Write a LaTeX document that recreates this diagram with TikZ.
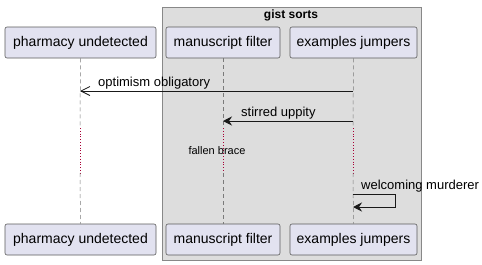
\documentclass[tikz,border=0pt]{standalone}
\usepackage{fontspec}
\setmainfont{Liberation Sans}
\usetikzlibrary{arrows.meta}
\definecolor{partfill}{HTML}{E2E2F0}
\definecolor{partline}{HTML}{5A5A5A}
\definecolor{groupfill}{HTML}{DDDDDD}
\definecolor{groupline}{HTML}{888888}
\definecolor{lifeline}{HTML}{7A7A7A}
\definecolor{delaydot}{HTML}{A80036}
\tikzset{
  part/.style={draw=partline, fill=partfill, rounded corners=2pt, minimum height=31pt,
    inner sep=0pt, font=\fontsize{14}{16}\selectfont, line width=0.6pt},
  life/.style={draw=lifeline, dash pattern=on 4pt off 3pt, line width=0.5pt},
  delay/.style={draw=delaydot, dotted, line width=0.8pt},
  msg/.style={line width=0.9pt, draw=black!90},
  msglabel/.style={font=\fontsize{13}{15}\selectfont, inner sep=1pt},
  openhead/.style={-{Straight Barb[length=9pt,width=9pt,line width=0.8pt]}},
  fullhead/.style={-{Stealth[length=9pt,width=9pt,inset=3pt]}}
}
\begin{document}
\begin{tikzpicture}[x=1pt,y=-1pt]
\useasboundingbox (0,0) rectangle (482,265);
% group frame
\node[draw=groupline, fill=groupfill, line width=0.8pt, minimum width=259pt, minimum height=253pt,
  inner sep=0pt, anchor=north west] (grp) at (162,7) {};
\node[font=\bfseries\fontsize{12}{14}\selectfont] (grptitle) at (291,15) {gist sorts};
% participants (top)
\node[part, minimum width=151pt] (pA) at (80.5,42.5) {pharmacy undetected};
\node[part, minimum width=114pt] (pB) at (223,42.5) {manuscript filter};
\node[part, minimum width=127pt] (pC) at (353.5,42.5) {examples jumpers};
% participants (bottom)
\node[part, minimum width=151pt] (qA) at (80.5,239.5) {pharmacy undetected};
\node[part, minimum width=114pt] (qB) at (223,239.5) {manuscript filter};
\node[part, minimum width=127pt] (qC) at (353.5,239.5) {examples jumpers};
% lifeline break points
\foreach \n/\x in {A/80,B/223,C/353}{
  \coordinate (d\n1) at (\x,128);
  \coordinate (d\n2) at (\x,173);
}
\foreach \n in {A,B,C}{
  \draw[life] (p\n.south) -- (d\n1);
  \draw[delay] (d\n1) -- (d\n2);
  \draw[life] (d\n2) -- (q\n.north);
}
% messages
\coordinate (m1s) at (353,91);
\coordinate (m1e) at (80,91);
\draw[msg, openhead] (m1s) -- (m1e);
\node[msglabel, anchor=base west] (m1l) at (97,86) {optimism obligatory};
\coordinate (m2s) at (353,121);
\coordinate (m2e) at (223,121);
\draw[msg, fullhead] (m2s) -- (m2e);
\node[msglabel, anchor=base west] (m2l) at (240,116) {stirred uppity};
\node[font=\fontsize{11}{13}\selectfont, inner sep=1pt] (delaytext) at (217,151) {fallen brace};
\coordinate (m3s) at (353,194);
\coordinate (m3a) at (395,194);
\coordinate (m3b) at (395,207);
\coordinate (m3e) at (353,207);
\draw[msg, fullhead] (m3s) -- (m3a) -- (m3b) -- (m3e);
\node[msglabel, anchor=base west] (m3l) at (360,189) {welcoming murderer};
\end{tikzpicture}
\end{document}
